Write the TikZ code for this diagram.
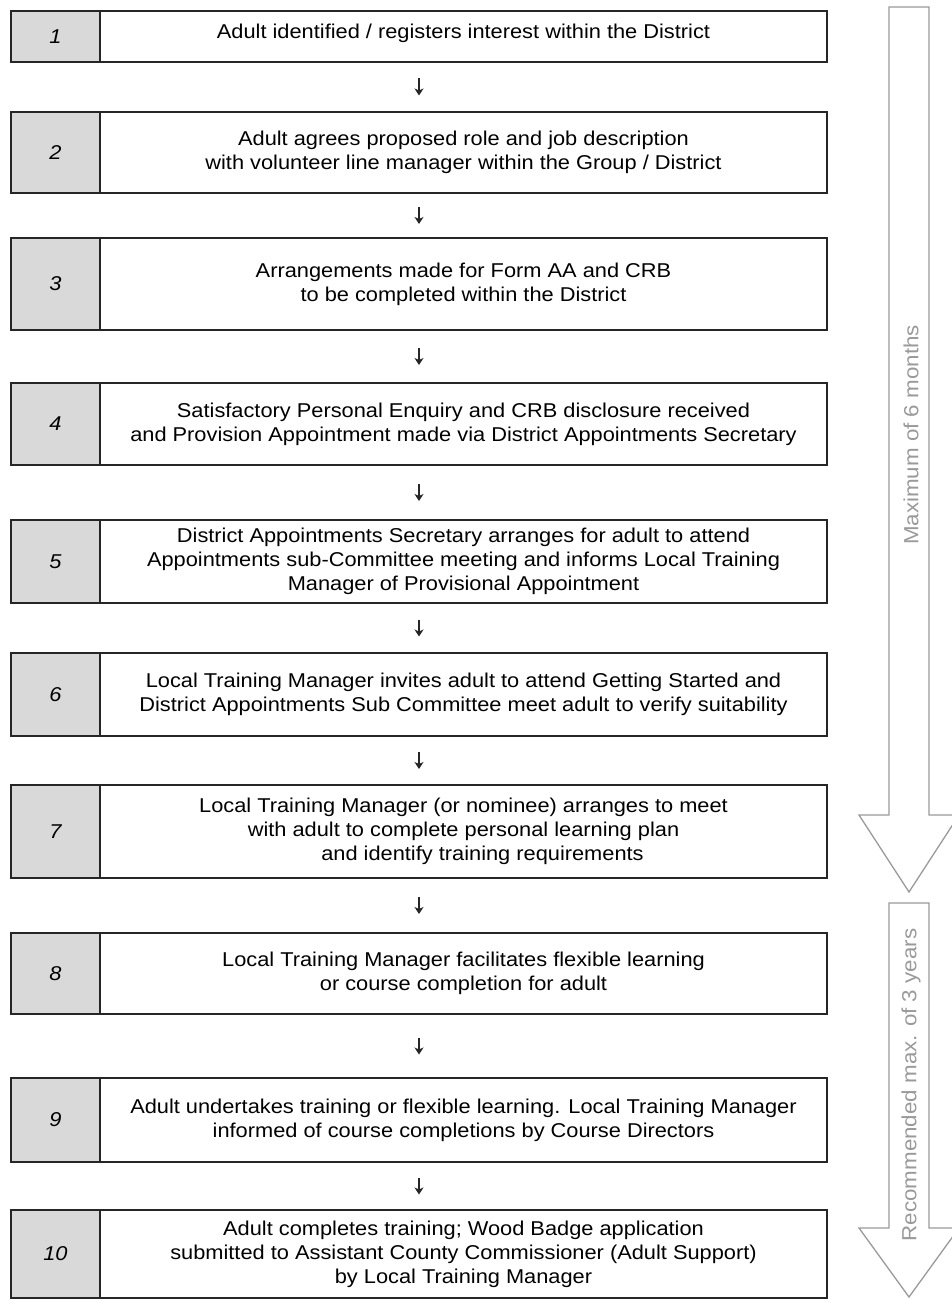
\documentclass[tikz,border=0pt]{standalone}
\usepackage{fontspec}
\setmainfont{Liberation Sans}[FakeStretch=1.09]
\usepackage{xcolor}
\usepackage{tikz}
\usetikzlibrary{arrows.meta, positioning}
\definecolor{numgray}{HTML}{D9D9D9}
\definecolor{periodgray}{HTML}{9A9A9A}
\newcommand{\stepfont}{\fontsize{20}{24}\selectfont}
\newcommand{\numfont}{\fontsize{20}{20}\selectfont\itshape}
\newcommand{\periodfont}{\fontsize{20.5}{22}\selectfont}
\tikzstyle{numcell} = [rectangle, draw=black!85, line width=1.5pt, fill=numgray, minimum width=89pt, inner sep=0pt, outer sep=0pt, font=\numfont]
\tikzstyle{stepcell} = [rectangle, draw=black!85, line width=1.5pt, minimum width=727pt, align=center, inner sep=0pt, outer sep=0pt, font=\stepfont]
\tikzstyle{arrow} = [line width=1.4pt, -{Stealth[length=7pt, width=9pt, inset=2pt]}, black!85]
\tikzstyle{period} = [draw=periodgray, line width=1.3pt, fill=white]
\tikzstyle{periodlabel} = [rotate=90, text=periodgray, font=\periodfont]

\begin{document}
\begin{tikzpicture}[x=1pt, y=-1pt]
	\useasboundingbox (0,0) rectangle (951,1300);
	
	\node (n1) [numcell, minimum height=51pt, anchor=north west] at (11,11) {1};
	\node (t1) [stepcell, minimum height=51pt, right=0pt of n1] {\raisebox{10pt}{Adult identified / registers interest within the District}};
	
	\node (n2) [numcell, minimum height=81pt, below=50pt of n1] {2};
	\node (t2) [stepcell, minimum height=81pt, right=0pt of n2] {Adult agrees proposed role and job description\\ with volunteer line manager within the Group / District};
	
	\node (n3) [numcell, minimum height=92pt, below=45pt of n2] {3};
	\node (t3) [stepcell, minimum height=92pt, right=0pt of n3] {Arrangements made for Form AA and CRB\\ to be completed within the District};
	
	\node (n4) [numcell, minimum height=82pt, below=53pt of n3] {4};
	\node (t4) [stepcell, minimum height=82pt, right=0pt of n4] {Satisfactory Personal Enquiry and CRB disclosure received\\ and Provision Appointment made via District Appointments Secretary};
	
	\node (n5) [numcell, minimum height=83pt, below=55pt of n4] {5};
	\node (t5) [stepcell, minimum height=83pt, right=0pt of n5] {District Appointments Secretary arranges for adult to attend\\ Appointments sub-Committee meeting and informs Local Training\\ Manager of Provisional Appointment};
	
	\node (n6) [numcell, minimum height=83pt, below=50pt of n5] {6};
	\node (t6) [stepcell, minimum height=83pt, right=0pt of n6] {Local Training Manager invites adult to attend Getting Started and\\ District Appointments Sub Committee meet adult to verify suitability};
	
	\node (n7) [numcell, minimum height=93pt, below=49pt of n6] {7};
	\node (t7) [stepcell, minimum height=93pt, right=0pt of n7] {Local Training Manager (or nominee) arranges to meet\\ with adult to complete personal learning plan\\ \hspace*{38pt}and identify training requirements};
	
	\node (n8) [numcell, minimum height=81pt, below=55pt of n7] {8};
	\node (t8) [stepcell, minimum height=81pt, right=0pt of n8] {Local Training Manager facilitates flexible learning\\ or course completion for adult};
	
	\node (n9) [numcell, minimum height=84pt, below=64pt of n8] {9};
	\node (t9) [stepcell, minimum height=84pt, right=0pt of n9] {Adult undertakes training or flexible learning. Local Training Manager\\ informed of course completions by Course Directors};
	
	\node (n10) [numcell, minimum height=88pt, below=48pt of n9] {10};
	\node (t10) [stepcell, minimum height=88pt, right=0pt of n10] {Adult completes training; Wood Badge application\\ submitted to Assistant County Commissioner (Adult Support)\\ by Local Training Manager};
	
	
	\draw [arrow, shorten <=16.5pt, shorten >=16.5pt] ([xshift=-44.5pt]t1.south) -- ([xshift=-44.5pt]t2.north);
	\draw [arrow, shorten <=14pt, shorten >=14pt] ([xshift=-44.5pt]t2.south) -- ([xshift=-44.5pt]t3.north);
	\draw [arrow, shorten <=18pt, shorten >=18pt] ([xshift=-44.5pt]t3.south) -- ([xshift=-44.5pt]t4.north);
	\draw [arrow, shorten <=19pt, shorten >=19pt] ([xshift=-44.5pt]t4.south) -- ([xshift=-44.5pt]t5.north);
	\draw [arrow, shorten <=16.5pt, shorten >=16.5pt] ([xshift=-44.5pt]t5.south) -- ([xshift=-44.5pt]t6.north);
	\draw [arrow, shorten <=16pt, shorten >=16pt] ([xshift=-44.5pt]t6.south) -- ([xshift=-44.5pt]t7.north);
	\draw [arrow, shorten <=19pt, shorten >=19pt] ([xshift=-44.5pt]t7.south) -- ([xshift=-44.5pt]t8.north);
	\draw [arrow, shorten <=23.5pt, shorten >=23.5pt] ([xshift=-44.5pt]t8.south) -- ([xshift=-44.5pt]t9.north);
	\draw [arrow, shorten <=15.5pt, shorten >=15.5pt] ([xshift=-44.5pt]t9.south) -- ([xshift=-44.5pt]t10.north);
	
	% time span arrows on the right
	\draw [period] (889,7) -- (929,7) -- (929,815) -- (959,815) -- (909,892) -- (859,815) -- (889,815) -- cycle;
	\draw [period] (889,903) -- (929,903) -- (929,1228) -- (959,1228) -- (909,1297) -- (859,1228) -- (889,1228) -- cycle;
	\node (sixmonths) [periodlabel] at (911,435) {Maximum of 6 months};
	\node (threeyears) [periodlabel] at (911,1085) {Recommended max. of 3 years};
	
\end{tikzpicture}
\end{document}
